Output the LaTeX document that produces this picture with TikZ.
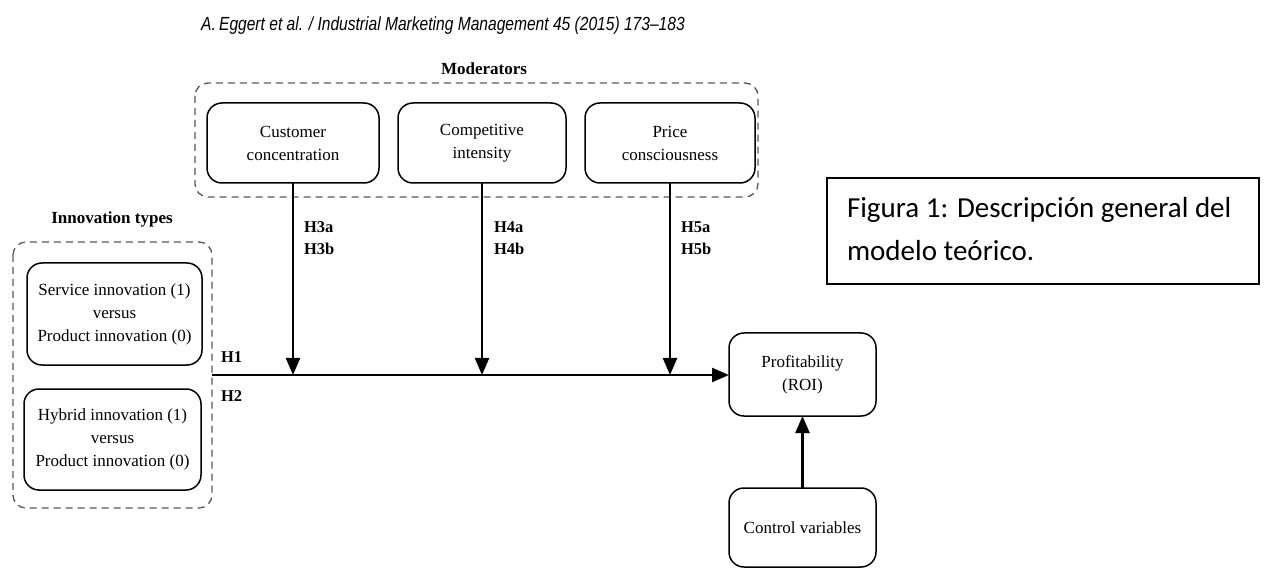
\documentclass[tikz,border=0pt]{standalone}
\usepackage{fontspec}
\setmainfont{Liberation Serif}
\newfontfamily\hdrfont[FakeStretch=0.82]{Liberation Sans}
\newfontfamily\capfont{Carlito}
\usetikzlibrary{arrows.meta}
\begin{document}
\begin{tikzpicture}[x=1pt,y=-1pt,
  every node/.style={inner sep=0pt, outer sep=0pt},
  var/.style={draw, line width=1.5pt, rounded corners=15pt, align=center,
    font=\fontsize{17}{23}\selectfont},
  group/.style={draw=black!65, line width=1.3pt, dash pattern=on 7pt off 5pt,
    rounded corners=13pt},
  title/.style={font=\fontsize{17}{20}\selectfont\bfseries},
  hyp/.style={anchor=west, font=\fontsize{16.5}{19}\selectfont\bfseries},
  link/.style={line width=2.3pt, -{Triangle[length=17pt,width=14pt]}}
]
\useasboundingbox (0,0) rectangle (1264,569);
\fill[white] (0,0) rectangle (1264,569);

% running header
\node (hdr) at (443,26) {\hdrfont\itshape\fontsize{19}{22}\selectfont A.\,Eggert et al. / Industrial Marketing Management 45 (2015) 173\textendash183};

% moderators group
\node[title] (modt) at (484,69) {Moderators};
\draw[group] (195,83) rectangle (758,197);
\node[var, minimum width=172pt, minimum height=80pt] (cust) at (293,143) {Customer\\concentration};
\node[var, minimum width=168pt, minimum height=80pt] (comp) at (482,143) {Competitive\\intensity};
\node[var, minimum width=170pt, minimum height=80pt] (price) at (670,143) {Price\\consciousness};

% innovation types group
\node[title] (innt) at (112,219) {Innovation types};
\draw[group] (13,242) rectangle (212,508);
\node[var, minimum width=175pt, minimum height=102pt] (serv) at (114.5,314) {Service innovation (1)\\versus\\Product innovation (0)};
\node[var, minimum width=177pt, minimum height=101pt] (hyb) at (112.5,439.5) {Hybrid innovation (1)\\versus\\Product innovation (0)};

% outcome and controls
\node[var, minimum width=147pt, minimum height=83pt] (prof) at (802.5,374.5) {Profitability\\(ROI)};
\node[var, minimum width=147pt, minimum height=79pt] (ctrl) at (802.5,527.5) {Control variables};

% main effect and moderation paths
\coordinate (src) at (212,375);
\draw[link] (src) -- (prof.west |- src);
\draw[link] (cust.south) -- (cust.south |- src);
\draw[link] (comp.south) -- (comp.south |- src);
\draw[link] (price.south) -- (price.south |- src);
\draw[link] (ctrl.north) -- (prof.south);

% hypothesis labels
\node[hyp] (h1) at (221,357) {H1};
\node[hyp] (h2) at (221,396) {H2};
\node[hyp] (h3a) at (304,227) {H3a};
\node[hyp] (h3b) at (304,249) {H3b};
\node[hyp] (h4a) at (494,227) {H4a};
\node[hyp] (h4b) at (494,249) {H4b};
\node[hyp] (h5a) at (681,227) {H5a};
\node[hyp] (h5b) at (681,249) {H5b};

% caption box
\draw[line width=1.4pt] (827,178) rectangle (1259,284);
\node[anchor=west, font=\capfont\fontsize{29}{35}\selectfont] (cap1) at (847,210) {Figura 1: Descripción general del};
\node[anchor=west, font=\capfont\fontsize{29}{35}\selectfont] (cap2) at (847,251) {modelo teórico.};
\end{tikzpicture}
\end{document}
